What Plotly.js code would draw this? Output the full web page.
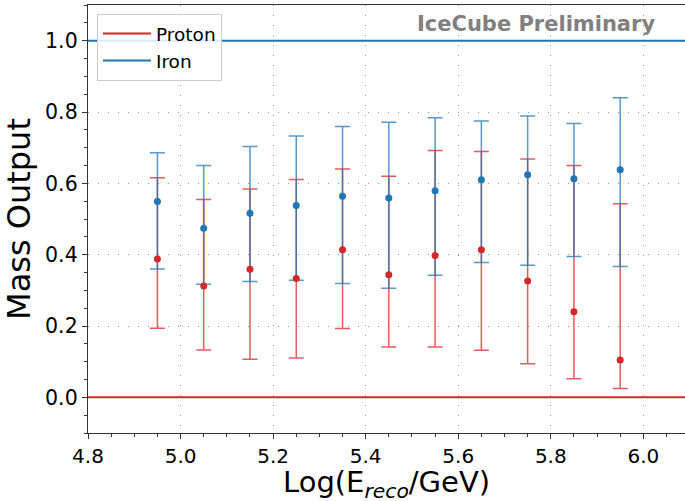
<!DOCTYPE html>
<html>
<head>
<meta charset="utf-8">
<script src="https://cdn.plot.ly/plotly-3.0.1.min.js"></script>
<style>html,body{margin:0;padding:0;background:#fff}#chart{width:685px;height:501px}</style>
</head>
<body>
<div id="chart"></div>
<script>
// Data
const energyBins = [4.95, 5.05, 5.15, 5.25, 5.35, 5.45, 5.55, 5.65, 5.75, 5.85, 5.95];
const protonMean  = [0.388, 0.312, 0.359, 0.333, 0.414, 0.344, 0.398, 0.414, 0.326, 0.240, 0.105];
const protonUpper = [0.616, 0.555, 0.584, 0.611, 0.640, 0.620, 0.692, 0.689, 0.668, 0.650, 0.543];
const protonLower = [0.194, 0.133, 0.107, 0.110, 0.193, 0.141, 0.141, 0.132, 0.094, 0.052, 0.025];
const ironMean  = [0.549, 0.474, 0.516, 0.538, 0.564, 0.559, 0.579, 0.610, 0.624, 0.613, 0.638];
const ironUpper = [0.686, 0.650, 0.703, 0.733, 0.759, 0.771, 0.784, 0.775, 0.789, 0.768, 0.840];
const ironLower = [0.360, 0.317, 0.325, 0.328, 0.319, 0.306, 0.342, 0.378, 0.370, 0.395, 0.367];
const protonRef = 0.0;
const ironRef = 1.0;
const xRange = [4.8, 6.09];
const yRange = [-0.1, 1.1];
const xTitle = 'Log(E<sub><i>reco</i></sub>/GeV)';
const yTitle = 'Mass Output';
const watermark = 'IceCube Preliminary';

const RED = '#d62728', BLUE = '#1f77b4';
const RED_EB = 'rgba(214,39,40,0.75)', BLUE_EB = 'rgba(31,119,180,0.75)';

function errs(mean, up, lo) {
  return {
    plus: up.map((u, i) => u - mean[i]),
    minus: mean.map((m, i) => m - lo[i])
  };
}
const pe = errs(protonMean, protonUpper, protonLower);
const ie = errs(ironMean, ironUpper, ironLower);

const data = [
  {x: xRange, y: [protonRef, protonRef], mode: 'lines', name: 'Proton',
   line: {color: RED, width: 2}, hoverinfo: 'skip'},
  {x: xRange, y: [ironRef, ironRef], mode: 'lines', name: 'Iron',
   line: {color: BLUE, width: 2}, hoverinfo: 'skip'},
  {x: energyBins, y: protonMean, mode: 'markers', showlegend: false,
   marker: {color: 'rgba(0,0,0,0)', size: 1},
   error_y: {type: 'data', symmetric: false, array: pe.plus, arrayminus: pe.minus,
             color: RED_EB, thickness: 1.5, width: 7.5}},
  {x: energyBins, y: ironMean, mode: 'markers', showlegend: false,
   marker: {color: 'rgba(0,0,0,0)', size: 1},
   error_y: {type: 'data', symmetric: false, array: ie.plus, arrayminus: ie.minus,
             color: BLUE_EB, thickness: 1.5, width: 7.5}},
  {x: energyBins, y: protonMean, mode: 'markers', showlegend: false,
   marker: {color: RED, size: 7}},
  {x: energyBins, y: ironMean, mode: 'markers', showlegend: false,
   marker: {color: BLUE, size: 7}}
];

const FONT = 'DejaVu Sans, sans-serif';
const layout = {
  width: 685, height: 501,
  margin: {l: 88, r: 0, t: 5, b: 68},
  paper_bgcolor: '#fff', plot_bgcolor: '#fff',
  font: {family: FONT, color: '#000'},
  showlegend: true,
  legend: {x: 0.015, y: 0.979, xanchor: 'left', yanchor: 'top', itemwidth: 48,
           bgcolor: 'rgba(255,255,255,0.85)', bordercolor: '#cccccc', borderwidth: 1,
           font: {family: FONT, size: 18.5, color: '#000'}},
  xaxis: {
    range: xRange, tickmode: 'linear', tick0: 4.8, dtick: 0.2, tickformat: '.1f',
    ticks: 'outside', ticklen: 5, tickwidth: 1, tickcolor: '#333',
    showline: true, linecolor: '#333', linewidth: 1.2, mirror: true,
    showgrid: true, gridcolor: '#999', griddash: '1px,9px', gridwidth: 1,
    zeroline: false,
    minor: {dtick: 0.05, tick0: 4.8, ticks: 'outside', ticklen: 3, tickcolor: '#333', showgrid: false},
    tickfont: {family: FONT, size: 20, color: '#000'}
  },
  yaxis: {
    range: yRange, tickmode: 'linear', tick0: 0, dtick: 0.2, tickformat: '.1f',
    ticks: 'outside', ticklen: 5, tickwidth: 1, tickcolor: '#333',
    showline: true, linecolor: '#333', linewidth: 1.2, mirror: false,
    showgrid: true, gridcolor: '#999', griddash: '1px,9px', gridwidth: 1,
    zeroline: false,
    minor: {dtick: 0.05, tick0: 0, ticks: 'outside', ticklen: 3, tickcolor: '#333', showgrid: false},
    tickfont: {family: FONT, size: 20.5, color: '#000'},
    title: {text: yTitle, font: {family: FONT, size: 32, color: '#000'}, standoff: 4}
  },
  annotations: [{
    text: '<b>' + watermark + '</b>', xref: 'paper', yref: 'paper',
    x: 0.953, y: 0.956, xanchor: 'right', yanchor: 'middle', showarrow: false,
    font: {family: FONT, size: 21, color: '#808080'}
  }, {
    text: xTitle, xref: 'paper', yref: 'paper',
    x: 0.5, y: -0.070, xanchor: 'center', yanchor: 'top', showarrow: false,
    font: {family: FONT, size: 29, color: '#000'}
  }]
};

Plotly.newPlot('chart', data, layout, {displayModeBar: false, staticPlot: true});
</script>
</body>
</html>
